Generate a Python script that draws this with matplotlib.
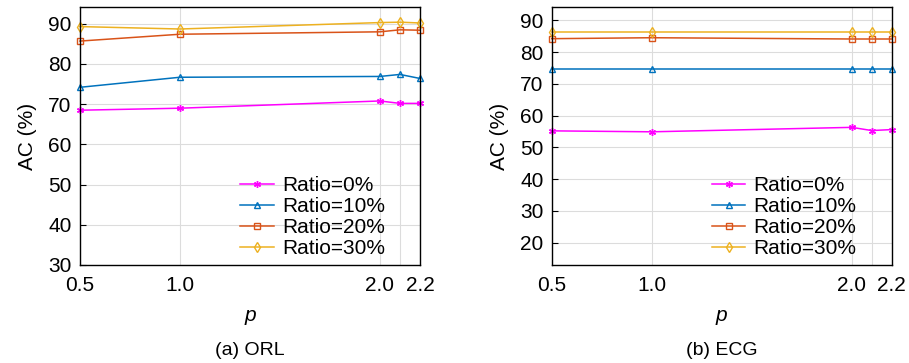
import matplotlib.pyplot as plt

plt.rcParams['font.family'] = ['Liberation Sans', 'DejaVu Sans']

# p values on the x axis
p_values = [0.5, 1.0, 2.0, 2.1, 2.2]
p_ticks = [0.5, 1.0, 2.0, 2.1, 2.2]
p_tick_labels = ['0.5', '1.0', '2.0', '', '2.2']
ratio_labels = ['Ratio=0%', 'Ratio=10%', 'Ratio=20%', 'Ratio=30%']

# (a) ORL
orl_r0 = [68.5, 69.0, 70.8, 70.2, 70.2]
orl_r10 = [74.2, 76.7, 76.9, 77.4, 76.4]
orl_r20 = [85.7, 87.4, 88.0, 88.5, 88.4]
orl_r30 = [89.3, 88.7, 90.3, 90.4, 90.2]

# (b) ECG
ecg_r0 = [55.2, 54.9, 56.3, 55.3, 55.6]
ecg_r10 = [74.6, 74.6, 74.6, 74.6, 74.6]
ecg_r20 = [84.2, 84.5, 84.1, 84.1, 84.1]
ecg_r30 = [86.2, 86.2, 86.2, 86.2, 86.2]

colors = ['#FF00FF', '#0072BD', '#D95319', '#EDB120']
markers = [(6, 2, 0), '^', 's', 'd']

fig = plt.figure(figsize=(9.09, 3.63), dpi=100)
ax1 = fig.add_axes([0.088, 0.270, 0.374, 0.711])
ax2 = fig.add_axes([0.607, 0.270, 0.374, 0.711])

panels = [
    (ax1, [orl_r0, orl_r10, orl_r20, orl_r30], (30, 94.2), [30, 40, 50, 60, 70, 80, 90], '(a) ORL'),
    (ax2, [ecg_r0, ecg_r10, ecg_r20, ecg_r30], (13, 94.2), [20, 30, 40, 50, 60, 70, 80, 90], '(b) ECG'),
]

for ax, series, ylim, yticks, caption in panels:
    for vals, c, m, lab in zip(series, colors, markers, ratio_labels):
        ax.plot(p_values, vals, color=c, marker=m, markersize=5,
                markerfacecolor='none', markeredgewidth=1,
                linewidth=1.1, label=lab, clip_on=False)
    ax.set_xlim(0.5, 2.2)
    ax.set_ylim(*ylim)
    ax.set_xticks(p_ticks)
    ax.set_xticklabels(p_tick_labels)
    ax.set_yticks(yticks)
    ax.grid(True, color='#dcdcdc', linewidth=0.8)
    ax.set_axisbelow(True)
    ax.tick_params(direction='in', labelsize=15, length=4, width=0.8)
    ax.tick_params(axis='x', pad=8, length=0)
    ax.tick_params(axis='y', pad=6)
    for s in ax.spines.values():
        s.set_linewidth(1.0)
    ax.set_ylabel('AC (%)', fontsize=15, labelpad=8)
    ax.set_xlabel('p', fontsize=15, style='italic', labelpad=8)
    ax.text(0.5, -0.33, caption, transform=ax.transAxes, ha='center', va='center', fontsize=14)
    ax.legend(loc='lower right', frameon=False, fontsize=15, handlelength=1.6,
              handletextpad=0.4, labelspacing=0.1, borderaxespad=0.3,
              bbox_to_anchor=(0.94, -0.03))

fig.savefig('out.png', dpi=100)
